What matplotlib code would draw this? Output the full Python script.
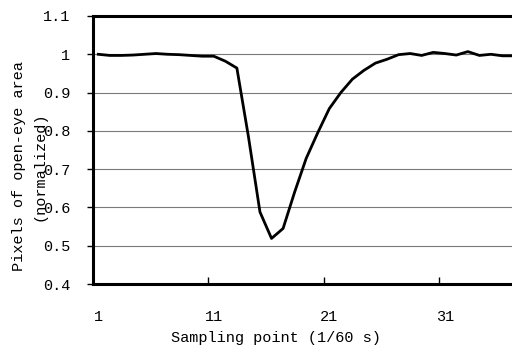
import matplotlib
matplotlib.use('Agg')
import matplotlib.pyplot as plt
import numpy as np

# -- Data ---------------------------------------------------------------------
samples = np.arange(1, 38)
area = [1.000, 0.997, 0.997, 0.998, 1.000, 1.002, 1.000, 0.999, 0.997, 0.995,
        0.995, 0.982, 0.964, 0.785, 0.588, 0.519, 0.545, 0.640, 0.728, 0.795,
        0.858, 0.900, 0.935, 0.958, 0.977, 0.987, 0.999, 1.002, 0.997, 1.005,
        1.002, 0.998, 1.007, 0.997, 1.000, 0.996, 0.996]

y_ticks = [0.4, 0.5, 0.6, 0.7, 0.8, 0.9, 1.0, 1.1]
y_labels = ['0.4', '0.5', '0.6', '0.7', '0.8', '0.9', '1', '1.1']
x_labels = [1, 11, 21, 31]
x_bounds = [0.5, 10.5, 20.5, 30.5]

FONT = 'Liberation Mono'
plt.rcParams['font.family'] = [FONT, 'DejaVu Sans']

fig = plt.figure(figsize=(5.12, 3.5), dpi=100)
ax = fig.add_axes([92.5 / 512, 1 - 284 / 350, 1 - 92.5 / 512, 268 / 350])

ax.plot(samples, area, color='black', linewidth=2.0, zorder=3)

ax.set_xlim(0.5, 36.82)
ax.set_ylim(0.4, 1.1)

# horizontal gridlines
ax.set_yticks(y_ticks)
ax.set_yticklabels(y_labels, fontsize=11)
ax.yaxis.grid(True, color='#7a7a7a', linewidth=0.8)
ax.set_axisbelow(True)
ax.tick_params(axis='y', direction='out', length=4, width=1, pad=12)

# category boundaries as inward ticks, labels at category centres
ax.set_xticks(x_bounds)
ax.set_xticklabels([])
ax.tick_params(axis='x', which='major', direction='in', length=5, width=1)
ax.set_xticks(x_labels, minor=True)
ax.set_xticklabels([str(v) for v in x_labels], minor=True, fontsize=11)
ax.tick_params(axis='x', which='minor', length=0, pad=19)

for side in ('left', 'top', 'bottom'):
    ax.spines[side].set_linewidth(2.2)
    ax.spines[side].set_color('black')
ax.spines['right'].set_visible(False)

ax.set_xlabel('Sampling point (1/60 s)', fontsize=11)
ax.xaxis.set_label_coords(0.4374, -0.2015)
ax.xaxis.label.set_va('center')

fig.text(29 / 512, 1 - 166 / 350, 'Pixels of open-eye area\n(normalized)',
         rotation=90, ha='center', va='center', multialignment='center',
         fontsize=11, linespacing=1.55)

fig.savefig('out.png', dpi=100)
